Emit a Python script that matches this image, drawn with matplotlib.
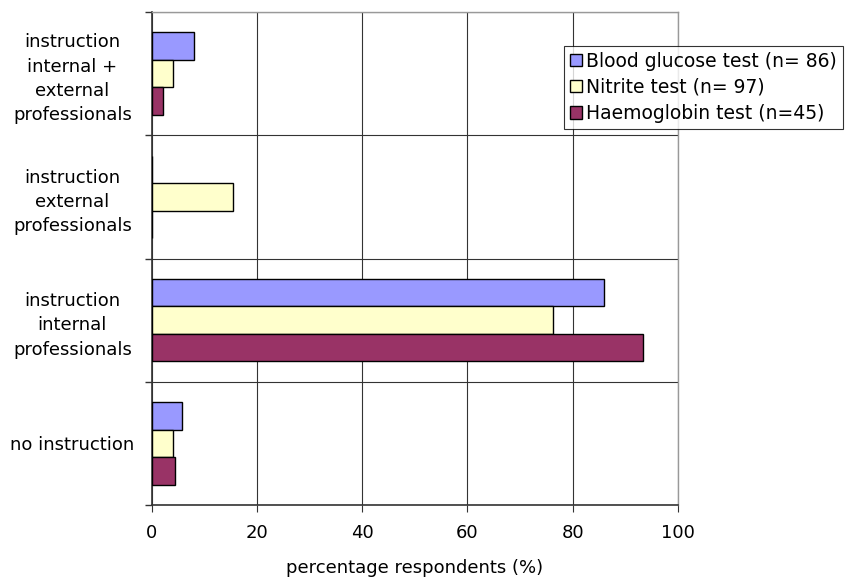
import matplotlib.pyplot as plt
import numpy as np

# categories bottom -> top
categories = ['no instruction', 'instruction\ninternal\nprofessionals',
              'instruction\nexternal\nprofessionals',
              'instruction\ninternal +\nexternal\nprofessionals']
series_names = ['Blood glucose test (n= 86)', 'Nitrite test (n= 97)', 'Haemoglobin test (n=45)']
blood_glucose = [5.8, 86.0, 0.0, 8.1]
nitrite = [4.1, 76.3, 15.5, 4.1]
haemoglobin = [4.4, 93.3, 0.0, 2.2]
colors = ['#9999FF', '#FFFFCC', '#993366']

plt.rcParams['font.family'] = ['DejaVu Sans']
fig = plt.figure(figsize=(8.46, 5.78), dpi=100)
ax = fig.add_axes([151.5 / 846, 1 - 505 / 578, (678 - 151.5) / 846, (505 - 12) / 578])

y = np.arange(len(categories))
h = 0.223
for i, (vals, name, c) in enumerate(zip([blood_glucose, nitrite, haemoglobin], series_names, colors)):
    ax.barh(y + (1 - i) * h, vals, height=h, color=c, edgecolor='black',
            linewidth=1.0, label=name, zorder=3)

ax.set_xlim(0, 100)
ax.set_ylim(-0.5, len(categories) - 0.5)
ax.set_xticks([0, 20, 40, 60, 80, 100])
ax.tick_params(axis='x', direction='out', length=5, width=0.8, color='#333333',
               labelsize=13, pad=9)
ax.set_yticks(y)
ax.set_yticklabels(categories, ha='center', multialignment='center',
                   fontsize=13, linespacing=1.45)
ax.tick_params(axis='y', which='major', length=0, pad=57)
ax.set_yticks(np.arange(-0.5, len(categories), 1.0), minor=True)
ax.tick_params(axis='y', which='minor', length=5, width=1.0, color='#333333')

ax.grid(axis='x', color='#333333', linewidth=0.8, zorder=0)
ax.grid(axis='y', which='minor', color='#333333', linewidth=0.8, zorder=0)
ax.grid(axis='y', which='major', visible=False)

for s in ['left', 'bottom']:
    ax.spines[s].set_color('#333333')
    ax.spines[s].set_linewidth(1.2)
for s in ['top', 'right']:
    ax.spines[s].set_color('#999999')
    ax.spines[s].set_linewidth(1.0)

ax.set_xlabel('percentage respondents (%)', fontsize=13, labelpad=12)

leg = fig.legend(loc='upper left', bbox_to_anchor=(564 / 846, 1 - 46 / 578),
                 fontsize=13.5, frameon=True, fancybox=False, edgecolor='black',
                 handlelength=0.65, handleheight=0.65, handletextpad=0.25,
                 borderpad=0.3, labelspacing=0.38, borderaxespad=0)
leg.get_frame().set_linewidth(0.8)

plt.savefig('out.png', dpi=100)
